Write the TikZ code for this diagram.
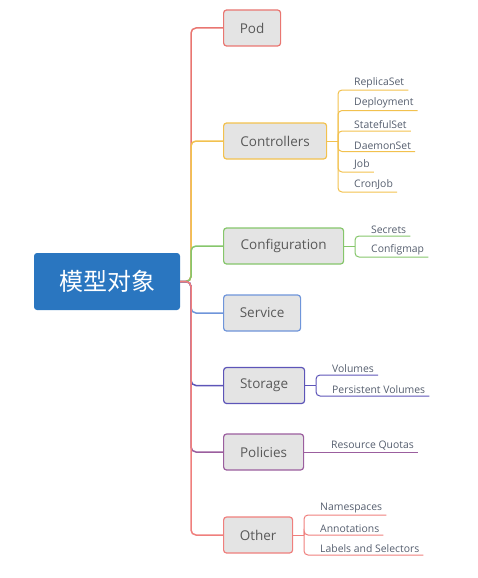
\documentclass[tikz,border=0pt]{standalone}
\usepackage{fontspec}
\setmainfont{Open Sans}
\newfontfamily\cjk{Noto Sans CJK SC}
\definecolor{cPod}{HTML}{E97671}
\definecolor{cCtl}{HTML}{F2C14E}
\definecolor{cCfg}{HTML}{86C66B}
\definecolor{cSvc}{HTML}{6F95DA}
\definecolor{cSto}{HTML}{5D55B8}
\definecolor{cPol}{HTML}{9B5E9E}
\definecolor{cOth}{HTML}{EF7F7D}
\definecolor{boxgray}{HTML}{E4E4E4}
\definecolor{txtgray}{HTML}{595959}
\definecolor{subtxt}{HTML}{555E6E}
\definecolor{rootblue}{HTML}{2A76C0}
\tikzset{
  mainbox/.style={draw, fill=boxgray, rounded corners=3pt, line width=1.2pt,
    minimum height=36pt, inner sep=0pt, font=\fontsize{13.5}{16}\selectfont,
    text=txtgray, anchor=west},
  subitem/.style={font=\fontsize{10.4}{12}\selectfont, text=subtxt,
    inner xsep=4pt, inner ysep=2pt, anchor=south west},
  branch/.style={line width=1.5pt, rounded corners=5pt},
  subline/.style={line width=1pt, rounded corners=4pt}
}
\begin{document}
\begin{tikzpicture}[x=1pt,y=-1pt]
\useasboundingbox (0,0) rectangle (478,578);
% root
\node[fill=rootblue, rounded corners=3pt, minimum width=146pt, minimum height=57pt,
  inner sep=0pt, text=white, font=\cjk\fontsize{24}{27}\selectfont] (root) at (107,281.5) {模型对象};
\coordinate (tr) at (191,281.5);
% main boxes
\node[mainbox, draw=cPod, minimum width=57pt] (pod) at (223,28) {Pod};
\node[mainbox, draw=cCtl, minimum width=103pt] (ctl) at (223,141) {Controllers};
\node[mainbox, draw=cCfg, minimum width=120pt] (cfg) at (223,246) {Configuration};
\node[mainbox, draw=cSvc, minimum width=77pt] (svc) at (223,313) {Service};
\node[mainbox, draw=cSto, minimum width=81pt] (sto) at (223,385.5) {Storage};
\node[mainbox, draw=cPol, minimum width=80pt] (pol) at (223,452) {Policies};
\node[mainbox, draw=cOth, minimum width=69pt] (oth) at (223,535) {Other};
% branches
\draw[branch, cPod] (root.east) -- (tr) |- (pod.west);
\draw[branch, cCtl] (root.east) -- (tr) |- (ctl.west);
\draw[branch, cCfg] (root.east) -- (tr) |- (cfg.west);
\draw[branch, cSvc] (root.east) -- (tr) |- (svc.west);
\draw[branch, cSto] (root.east) -- (tr) |- (sto.west);
\draw[branch, cPol] (root.east) -- (tr) |- (pol.west);
\draw[branch, cOth] (root.east) -- (tr) |- (oth.west);
% Controllers items
\node[subitem] (rs) at (350,90) {ReplicaSet};
\node[subitem] (dp) at (350,110.5) {Deployment};
\node[subitem] (ss) at (350,131) {StatefulSet};
\node[subitem] (ds) at (350,151.5) {DaemonSet};
\node[subitem] (job) at (350,172) {Job};
\node[subitem] (cj) at (350,192) {CronJob};
\draw[subline, cCtl] (ctl.east) -- (338,141) coordinate (cb);
\foreach \n in {rs,dp,ss,ds,job,cj} \draw[subline, cCtl] (cb) |- (\n.south east);
% Configuration items
\node[subitem] (sec) at (367,236) {Secrets};
\node[subitem] (cm) at (367,257) {Configmap};
\draw[subline, cCfg] (cfg.east) -- (355,246) coordinate (fb);
\foreach \n in {sec,cm} \draw[subline, cCfg] (fb) |- (\n.south east);
% Storage items
\node[subitem] (vol) at (328,375) {Volumes};
\node[subitem] (pv) at (328,396) {Persistent Volumes};
\draw[subline, cSto] (sto.east) -- (316,385.5) coordinate (sb);
\foreach \n in {vol,pv} \draw[subline, cSto] (sb) |- (\n.south east);
% Policies item
\node[subitem] (rq) at (327,452) {Resource Quotas};
\draw[subline, cPol] (pol.east) -- (rq.south east);
% Other items
\node[subitem] (ns) at (316,515) {Namespaces};
\node[subitem] (ann) at (316,535) {Annotations};
\node[subitem] (lab) at (316,555) {Labels and Selectors};
\draw[subline, cOth] (oth.east) -- (304,535) coordinate (ob);
\foreach \n in {ns,ann,lab} \draw[subline, cOth] (ob) |- (\n.south east);
\end{tikzpicture}
\end{document}
